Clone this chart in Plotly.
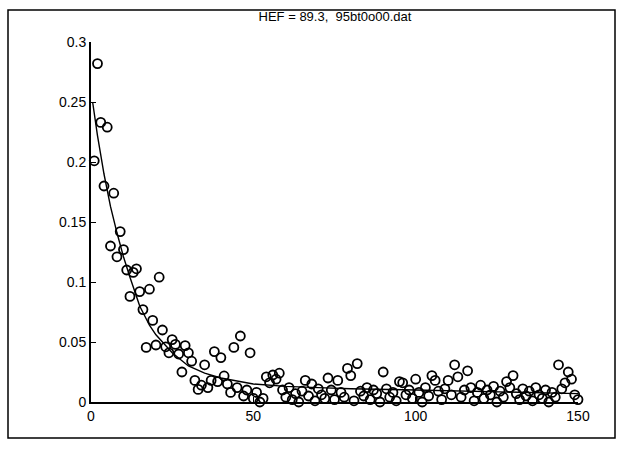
import plotly.graph_objects as go

# ---- data ----
y_values = [
    0.201, 0.282, 0.233, 0.180, 0.229, 0.130, 0.174, 0.121, 0.142, 0.127,
    0.110, 0.088, 0.108, 0.111, 0.092, 0.077, 0.0455, 0.094, 0.068, 0.0475,
    0.104, 0.060, 0.046, 0.041, 0.052, 0.048, 0.040, 0.025, 0.047, 0.041,
    0.034, 0.018, 0.0105, 0.014, 0.031, 0.012, 0.018, 0.042, 0.017, 0.037,
    0.0217, 0.015, 0.008, 0.0455, 0.012, 0.055, 0.005, 0.010, 0.041, 0.003,
    0.008, 0.000, 0.003, 0.021, 0.016, 0.0225, 0.019, 0.024, 0.010, 0.004,
    0.012, 0.002, 0.007, 0.000, 0.009, 0.018, 0.005, 0.015, 0.001, 0.011,
    0.006, 0.003, 0.020, 0.010, 0.002, 0.018, 0.008, 0.004, 0.028, 0.022,
    0.001, 0.032, 0.009, 0.005, 0.012, 0.002, 0.010, 0.007, 0.000, 0.025,
    0.011, 0.004, 0.008, 0.001, 0.017, 0.016, 0.006, 0.010, 0.003, 0.019,
    0.008, 0.000, 0.012, 0.005, 0.022, 0.018, 0.009, 0.002, 0.011, 0.018,
    0.006, 0.031, 0.021, 0.004, 0.010, 0.026, 0.012, 0.001, 0.008, 0.014,
    0.003, 0.010, 0.006, 0.013, 0.000, 0.009, 0.004, 0.017, 0.012, 0.022,
    0.007, 0.002, 0.011, 0.005, 0.009, 0.001, 0.012, 0.006, 0.003, 0.010,
    0.000, 0.008, 0.004, 0.031, 0.011, 0.016, 0.025, 0.019, 0.006, 0.002,
]
x_values = list(range(1, len(y_values) + 1))

fit_x = [0.5, 2, 4, 6, 8, 10, 12, 15, 18, 20, 25, 30, 35, 40, 50, 60, 70, 80, 100, 120, 150]
fit_y = [0.250, 0.222, 0.190, 0.163, 0.141, 0.121, 0.104, 0.080, 0.064, 0.056,
         0.041, 0.030, 0.024, 0.020, 0.015, 0.013, 0.012, 0.011, 0.010, 0.009, 0.007]

title_text = "HEF = 89.3,  95bt0o00.dat"
x_ticks = [0, 50, 100, 150]
y_ticks = [0, 0.05, 0.1, 0.15, 0.2, 0.25, 0.3]
y_tick_text = ["0", "0.05", "0.1", "0.15", "0.2", "0.25", "0.3"]

# ---- figure ----
W, H = 624, 453
L, R, T, B = 91, 46, 42, 51
pw, ph = W - L - R, H - T - B

fig = go.Figure()
fig.add_trace(go.Scatter(
    x=fit_x, y=fit_y, mode="lines",
    line=dict(color="black", width=1.4),
    cliponaxis=False, showlegend=False, hoverinfo="skip"))
fig.add_trace(go.Scatter(
    x=x_values, y=y_values, mode="markers",
    marker=dict(symbol="circle-open", size=9, color="black",
                line=dict(color="black", width=1.8)),
    cliponaxis=False, showlegend=False))

def px2paper_x(px):
    return (px - L) / pw

def px2paper_y(py):
    return (H - B - py) / ph

fig.add_shape(type="rect", xref="paper", yref="paper",
              x0=px2paper_x(8), x1=px2paper_x(615),
              y0=px2paper_y(438), y1=px2paper_y(10),
              line=dict(color="black", width=1.5), layer="below")

fig.update_layout(
    width=W, height=H,
    margin=dict(l=L, r=R, t=T, b=B),
    paper_bgcolor="white", plot_bgcolor="white",
    font=dict(family="Liberation Sans, Arial, sans-serif", size=14, color="black"),
    title=dict(text=title_text, x=px2paper_x(335), xref="paper", xanchor="center",
               y=1 - 16 / H, yanchor="middle",
               font=dict(size=13, color="black")),
    xaxis=dict(range=[0, 150], tickvals=x_ticks, ticks="inside", ticklen=5,
               tickwidth=1, tickcolor="black", showline=True, linecolor="black",
               linewidth=2, showgrid=False, zeroline=False, mirror=False,
               tickfont=dict(size=14)),
    yaxis=dict(range=[0, 0.3], tickvals=y_ticks, ticktext=y_tick_text,
               ticks="inside", ticklen=5, tickwidth=1, tickcolor="black",
               showline=True, linecolor="black", linewidth=2, showgrid=False,
               zeroline=False, mirror=False, tickfont=dict(size=14)),
)

fig.write_html("out.html")
